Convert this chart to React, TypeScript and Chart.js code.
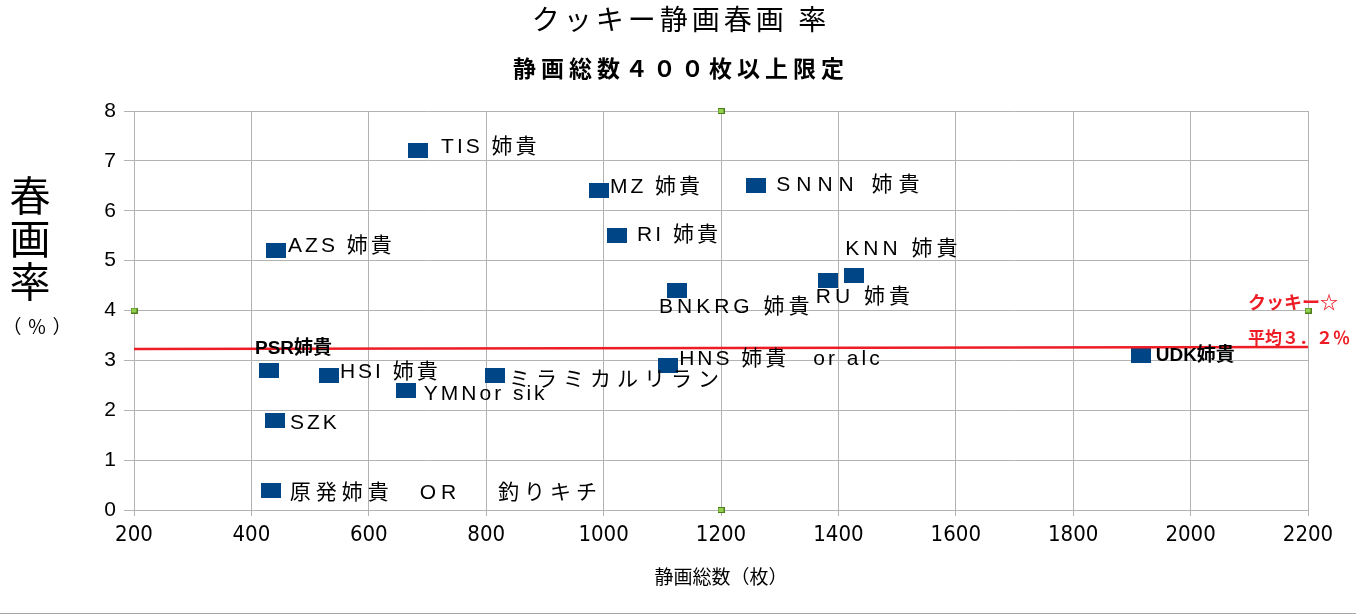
import React, { useEffect, useRef } from "react";
import { Chart, registerables } from "chart.js";
Chart.register(...registerables);

const names = [
  "TIS 姉貴", "MZ 姉貴", "SNNN 姉貴", "RI 姉貴", "AZS 姉貴", "KNN 姉貴", "RU 姉貴",
  "BNKRG 姉貴", "HNS 姉貴　or alc", "PSR姉貴", "HSI 姉貴", "YMNor sik", "ミラミカルリラン",
  "SZK", "原発姉貴　OR　 釣りキチ", "UDK姉貴",
];
const totals = [684, 992, 1260, 1023, 442, 1427, 1382, 1125, 1110, 430, 532, 663, 815, 440, 433, 1915];
const rates = [7.2, 6.4, 6.5, 5.5, 5.2, 4.7, 4.6, 4.4, 2.9, 2.8, 2.7, 2.4, 2.7, 1.8, 0.4, 3.1];

const avgX = [200, 2200];
const avgY = [3.23, 3.27];

const handleX = [1200, 200, 2200, 1200];
const handleY = [8, 4, 4, 0];

const xTicks = [200, 400, 600, 800, 1000, 1200, 1400, 1600, 1800, 2000, 2200];
const yTicks = [0, 1, 2, 3, 4, 5, 6, 7, 8];

const titleText = "クッキー静画春画 率";
const subtitleText = "静画総数４００枚以上限定";
const xTitle = "静画総数（枚）";
const yTitleChars = ["春", "画", "率"];
const yTitleUnit = "（％）";
const avgLabel1 = "クッキー☆";
const avgLabel2 = "平均３．２％";

// label layout: [dx, dy, bold, letterSpacing]
const labelLayout: [number, number, boolean, number][] = [
  [23, -4, false, 3], [11, -4, false, 3], [20, -1, false, 6], [20, 0, false, 3],
  [12, -4, false, 3], [-9, -26, false, 4], [-12, 17, false, 4], [-18, 17, false, 4],
  [11, -6, false, 3], [-14, -22, true, 0], [11, -3, false, 3], [18, 4, false, 3],
  [14, 5, false, 6], [15, 3, false, 3], [19, 3, false, 5], [15, 0, true, 0],
];

const CJK = '"Noto Sans CJK JP"';
const LAB = '"Liberation Sans", "Noto Sans CJK JP", sans-serif';

function makeRect(): HTMLCanvasElement {
  const c = document.createElement("canvas");
  c.width = 20;
  c.height = 15;
  const g = c.getContext("2d")!;
  g.fillStyle = "#004586";
  g.fillRect(0, 0, 20, 15);
  return c;
}

function makeHandle(): HTMLCanvasElement {
  const c = document.createElement("canvas");
  c.width = 7;
  c.height = 6;
  const g = c.getContext("2d")!;
  g.fillStyle = "#4f7f1c";
  g.fillRect(0, 0, 7, 6);
  g.fillStyle = "#92d050";
  g.fillRect(1, 1, 5, 4);
  return c;
}

export default function App() {
  const ref = useRef<HTMLCanvasElement | null>(null);
  useEffect(() => {
    document.body.style.margin = "0";
    const canvas = ref.current!;
    const rectImg = makeRect();
    const handleImg = makeHandle();

    const decor = {
      id: "decor",
      afterDatasetsDraw(chart: any) {
        const ctx = chart.ctx as CanvasRenderingContext2D;
        const meta = chart.getDatasetMeta(0);
        ctx.save();
        ctx.textBaseline = "middle";
        ctx.textAlign = "left";
        ctx.fillStyle = "#000";
        meta.data.forEach((pt: any, i: number) => {
          const [dx, dy, bold, ls] = labelLayout[i];
          ctx.font = bold ? `bold 19px ${LAB}` : `21px ${LAB}`;
          (ctx as any).letterSpacing = ls + "px";
          ctx.fillText(names[i], pt.x + dx, pt.y + dy);
        });
        ctx.restore();
      },
      afterDraw(chart: any) {
        const ctx = chart.ctx as CanvasRenderingContext2D;
        const area = chart.chartArea;
        ctx.save();
        ctx.fillStyle = "#000";
        ctx.textBaseline = "middle";
        ctx.textAlign = "center";
        (ctx as any).letterSpacing = "4px";
        ctx.font = `28px ${CJK}`;
        ctx.fillText(titleText, 681, 19);
        (ctx as any).letterSpacing = "5px";
        ctx.font = `bold 23px ${CJK}`;
        ctx.fillText(subtitleText, 681, 68);
        (ctx as any).letterSpacing = "0px";
        ctx.font = `19px ${CJK}`;
        ctx.fillText(xTitle, (area.left + area.right) / 2, 577);
        ctx.font = `41px ${CJK}`;
        yTitleChars.forEach((ch, i) => ctx.fillText(ch, 30, 195 + i * 43));
        (ctx as any).letterSpacing = "6px";
        ctx.font = `19px ${CJK}`;
        ctx.fillText(yTitleUnit, 40, 327);
        // average labels
        ctx.textAlign = "left";
        (ctx as any).letterSpacing = "0px";
        ctx.fillStyle = "#ee1c25";
        ctx.font = `bold 18px ${CJK}`;
        ctx.fillText(avgLabel1, 1248, 302);
        ctx.font = `bold 17px ${CJK}`;
        ctx.fillText(avgLabel2, 1248, 338);
        // bottom border
        ctx.strokeStyle = "#a6a6a6";
        ctx.lineWidth = 1;
        ctx.beginPath();
        ctx.moveTo(0, 613.5);
        ctx.lineTo(1356, 613.5);
        ctx.stroke();
        ctx.restore();
      },
    };

    const chart = new Chart(canvas, {
      type: "scatter",
      data: {
        datasets: [
          {
            data: totals.map((x, i) => ({ x, y: rates[i] })),
            pointStyle: rectImg as any,
            backgroundColor: "#004586",
            order: 1,
          },
          {
            data: avgX.map((x, i) => ({ x, y: avgY[i] })),
            showLine: true,
            borderColor: "#ee1c25",
            borderWidth: 2.5,
            pointRadius: 0,
            order: 0,
          },
          {
            data: handleX.map((x, i) => ({ x, y: handleY[i] })),
            pointStyle: handleImg as any,
            clip: false,
            order: -1,
          },
        ],
      },
      options: {
        animation: false,
        responsive: false,
        events: [],
        layout: { padding: { top: 111, right: 48, left: 0, bottom: 0 } },
        plugins: { legend: { display: false }, tooltip: { enabled: false }, title: { display: false } },
        scales: {
          x: {
            type: "linear",
            min: 200,
            max: 2200,
            afterFit: (s: any) => { s.height = 106; },
            afterBuildTicks: (s: any) => { s.ticks = xTicks.map((v) => ({ value: v })); },
            grid: { color: "#b3b3b3", tickLength: 6, tickColor: "#b3b3b3" },
            border: { color: "#b3b3b3" },
            ticks: {
              color: "#000",
              padding: 6,
              maxRotation: 0,
              callback: (v: any) => String(v),
              font: { family: '"DejaVu Sans Condensed", "Liberation Sans Narrow", sans-serif', size: 22 },
            },
          },
          y: {
            type: "linear",
            min: 0,
            max: 8,
            afterFit: (s: any) => { s.width = 134; },
            afterBuildTicks: (s: any) => { s.ticks = yTicks.map((v) => ({ value: v })); },
            grid: { color: "#b3b3b3", tickLength: 10, tickColor: "#b3b3b3" },
            border: { color: "#b3b3b3" },
            ticks: {
              color: "#000",
              padding: 8,
              font: { family: '"Liberation Sans", sans-serif', size: 21 },
            },
          },
        },
      },
      plugins: [decor],
    } as any);
    return () => chart.destroy();
  }, []);
  return <canvas ref={ref} width={1356} height={616} style={{ display: "block" }} />;
}
